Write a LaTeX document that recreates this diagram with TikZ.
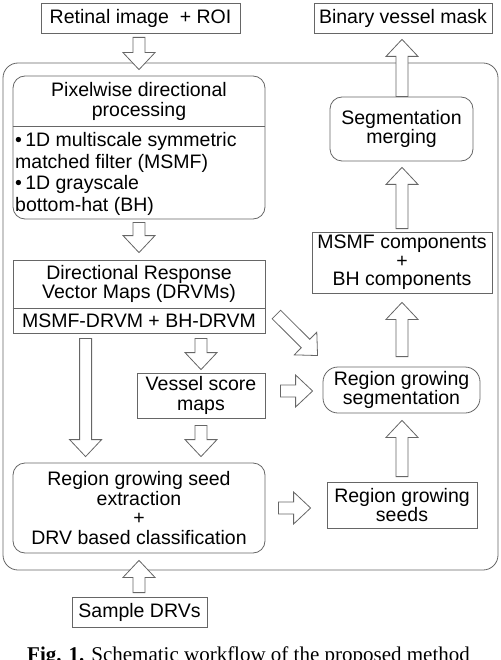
\documentclass[tikz,border=0pt]{standalone}
\usepackage{fontspec}
\setmainfont{Liberation Sans}
\newfontfamily\capfont{Liberation Serif}
\usetikzlibrary{calc}
\newcommand\dfont{\fontsize{19.5}{19.5}\selectfont}
\newcommand\harrow[2]{%
  \draw[harrowstyle] let \p1=(#1), \p2=(#2),
    \n1={atan2(\y2-\y1,\x2-\x1)}, \n2={veclen(\x2-\x1,\y2-\y1)} in
    [shift={(\p1)}, rotate=\n1]
    (0pt,6pt) -- (\n2-17pt,6pt) -- (\n2-17pt,16pt) -- (\n2+0pt,0pt)
    -- (\n2-17pt,-16pt) -- (\n2-17pt,-6pt) -- (0pt,-6pt) -- cycle;}
\tikzset{
  box/.style={draw=black!60, line width=0.8pt, inner sep=0pt, align=center, font=\dfont},
  rbox/.style={box, rounded corners=12pt},
  txt/.style={inner sep=0pt, align=center, font=\dfont},
  divider/.style={draw=black!60, line width=0.8pt},
  harrowstyle/.style={draw=black!60, fill=white, line width=0.8pt, line join=miter},
}
\begin{document}
\begin{tikzpicture}[x=1pt, y=-1pt]
\useasboundingbox (0,0) rectangle (500,660);
% container
\node[draw=black!60, line width=0.8pt, rounded corners=15pt, minimum width=495pt, minimum height=507pt, inner sep=0pt] (outer) at (250.5,316.5) {};
% left column
\node[box, minimum width=199pt, minimum height=30pt] (roi) at (140.5,18) {Retinal image\ \ + ROI};
\node[rbox, minimum width=252pt, minimum height=143pt] (pix) at (139,147.5) {};
\draw[divider] (pix.west |- 0,126) -- (pix.east |- 0,126);
\node[txt] (pixt) at (139,101.5) {Pixelwise directional\\processing};
\node[txt, align=left, anchor=west, font=\fontsize{19.5}{21.5}\selectfont] (pixb) at (15,174)
  {\textbullet\,1D multiscale symmetric\\matched filter (MSMF)\\\textbullet\,1D grayscale\\bottom-hat (BH)};
\node[box, minimum width=252pt, minimum height=73pt] (drvm) at (139,296.5) {};
\draw[divider] (drvm.west |- 0,308) -- (drvm.east |- 0,308);
\node[txt] (drvmt) at (139,284) {Directional Response\\Vector Maps (DRVMs)};
\node[txt] (drvmb) at (139,320.5) {MSMF-DRVM + BH-DRVM};
\node[box, minimum width=128pt, minimum height=45pt] (vsm) at (201,395.5) {Vessel score\\maps};
\node[rbox, minimum width=252pt, minimum height=90pt] (seedx) at (139,508)
  {Region growing seed\\extraction\\+\\DRV based classification};
\node[box, minimum width=135pt, minimum height=30pt] (sdrv) at (139.5,612) {Sample DRVs};
% right column
\node[box, minimum width=178pt, minimum height=30pt] (bin) at (403,18) {Binary vessel mask};
\node[rbox, minimum width=143pt, minimum height=64pt] (segm) at (401.5,129) {Segmentation\\merging};
\node[box, minimum width=180pt, minimum height=61pt, font=\fontsize{19.5}{18.5}\selectfont] (comp) at (402,262.5) {MSMF components\\+\\BH components};
\node[box, rounded corners=15pt, minimum width=157pt, minimum height=46pt] (rgs) at (401.5,390) {Region growing\\segmentation};
\node[box, minimum width=150pt, minimum height=46pt] (seeds) at (402,505) {Region growing\\seeds};
% hollow arrows
\harrow{$(roi.south)+(-1.5,4)$}{$(pix.north)+(0,-6)$}
\harrow{$(pix.south)+(0,3)$}{$(drvm.north)+(0,-7)$}
\harrow{$(drvm.south west)+(73,5)$}{$(seedx.north west)+(73,-6)$}
\harrow{$(drvm.south)+(62,5)$}{$(vsm.north)+(0,-3)$}
\harrow{$(vsm.south)+(0,7)$}{$(seedx.north)+(62,-6)$}
\harrow{$(sdrv.north)+(-0.5,-4)$}{$(seedx.south)+(0,7)$}
\harrow{$(seedx.east)+(13,0)$}{$(seeds.west)+(-16,3)$}
\harrow{$(vsm.east)+(15,-4.5)$}{$(rgs.west)+(-10,1)$}
\harrow{$(drvm.east)+(11,18)$}{$(rgs.north west)+(-5,-11)$}
\harrow{$(seeds.north)+(0,-5)$}{$(rgs.south)+(0.5,7)$}
\harrow{$(rgs.north)+(0.5,-10)$}{$(comp.south)+(0,9)$}
\harrow{$(comp.north)+(0,-3)$}{$(segm.south)+(0.5,6)$}
\harrow{$(segm.north)+(0.5,0)$}{$(bin.south)+(-1,6)$}
% caption
\node[anchor=base west, inner sep=0pt, font=\capfont\fontsize{21}{21}\selectfont] (cap) at (27,661)
  {\textbf{Fig. 1.} Schematic workflow of the proposed method};
\end{tikzpicture}
\end{document}
